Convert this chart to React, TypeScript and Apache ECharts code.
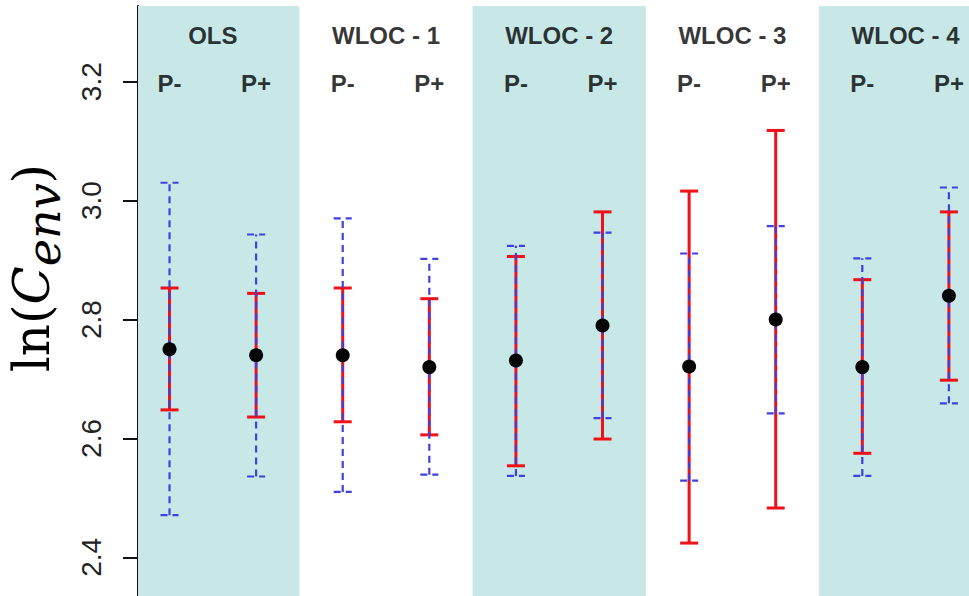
import React, { useEffect, useRef } from 'react';
import * as echarts from 'echarts';

// ---- data ----
const groups = ['OLS', 'WLOC - 1', 'WLOC - 2', 'WLOC - 3', 'WLOC - 4'];
const subLabels = ['P-', 'P+'];
const positions = [1, 2, 3, 4, 5, 6, 7, 8, 9, 10];
const means = [2.75, 2.74, 2.74, 2.72, 2.731, 2.79, 2.721, 2.8, 2.72, 2.84];
const redLow = [2.648, 2.636, 2.628, 2.606, 2.554, 2.599, 2.424, 2.483, 2.575, 2.698];
const redHigh = [2.853, 2.844, 2.853, 2.835, 2.906, 2.981, 3.016, 3.118, 2.867, 2.981];
const blueLow = [2.471, 2.536, 2.51, 2.539, 2.537, 2.634, 2.529, 2.642, 2.537, 2.659];
const blueHigh = [3.03, 2.943, 2.97, 2.902, 2.924, 2.946, 2.911, 2.957, 2.903, 3.022];
const yTicks = [2.4, 2.6, 2.8, 3.0, 3.2];
const shadedGroups = [0, 2, 4];

// axis extents
const X_MIN = 0.636;
const X_MAX = 10.232;
const Y_MIN = 2.335;
const Y_MAX = 3.3273;
const GROUP_LABEL_Y = 3.2785;
const SUB_LABEL_Y = 3.197;

const RED = '#f01018';
const BLUE = '#4040e0';
const PANEL = '#c8e8e8';

function errorBarRender(color: string, width: number, dash: number[] | null) {
  return (params: any, api: any) => {
    const x = api.value(0);
    const lo = api.value(1);
    const hi = api.value(2);
    const pLo = api.coord([x, lo]);
    const pHi = api.coord([x, hi]);
    const hw = 9;
    const style: any = { stroke: color, lineWidth: width, fill: null };
    if (dash) style.lineDash = dash;
    return {
      type: 'group',
      children: [
        { type: 'line', shape: { x1: pLo[0], y1: pLo[1], x2: pHi[0], y2: pHi[1] }, style },
        { type: 'line', shape: { x1: pHi[0] - hw, y1: pHi[1], x2: pHi[0] + hw, y2: pHi[1] }, style },
        { type: 'line', shape: { x1: pLo[0] - hw, y1: pLo[1], x2: pLo[0] + hw, y2: pLo[1] }, style },
      ],
    };
  };
}

export default function App() {
  const ref = useRef<HTMLDivElement>(null);
  useEffect(() => {
    document.body.style.margin = '0';
    if (!ref.current) return;
    const chart = echarts.init(ref.current, null, { renderer: 'svg' });

    const redData = positions.map((p, i) => [p, redLow[i], redHigh[i]]);
    const blueData = positions.map((p, i) => [p, blueLow[i], blueHigh[i]]);
    const meanData = positions.map((p, i) => [p, means[i]]);
    const groupLabelData = groups.map((g, i) => [positions[i * 2] + 0.5, GROUP_LABEL_Y, g]);
    const subLabelData = positions.map((p, i) => [p, SUB_LABEL_Y, subLabels[i % 2]]);
    const areas = shadedGroups.map((g) => [
      { xAxis: Math.max(X_MIN, positions[g * 2] - 0.5), yAxis: Y_MIN },
      { xAxis: Math.min(X_MAX, positions[g * 2 + 1] + 0.5), yAxis: Y_MAX },
    ]);

    const headerLabel = (fs: number) => ({
      show: true,
      position: 'inside',
      formatter: (p: any) => p.value[2],
      fontFamily: 'Liberation Sans, Arial, sans-serif',
      fontWeight: 'bold',
      fontSize: fs,
      color: '#000',
      textBorderWidth: 0,
    });

    chart.setOption({
      animation: false,
      backgroundColor: '#ffffff',
      grid: { left: 138, top: 6, width: 831, height: 590 },
      xAxis: { type: 'value', min: X_MIN, max: X_MAX, show: false },
      yAxis: {
        type: 'value',
        min: Y_MIN,
        max: Y_MAX,
        splitLine: { show: false },
        axisLine: { show: true, lineStyle: { color: '#111', width: 2 } },
        axisTick: { show: true, length: 15, customValues: yTicks, lineStyle: { color: '#111', width: 2 } },
        axisLabel: {
          customValues: yTicks,
          rotate: 90,
          margin: 33,
          fontSize: 28,
          fontFamily: 'Liberation Sans, Arial, sans-serif',
          color: '#222',
          formatter: (v: number) => v.toFixed(1),
        },
      },
      graphic: [
        {
          type: 'text',
          x: 34,
          y: 268,
          rotation: Math.PI / 2,
          style: {
            text: '{a|ln(}{b|C}{c|env}{a|)}',
            align: 'center',
            verticalAlign: 'middle',
            fill: '#000',
            rich: {
              a: { fontFamily: 'DejaVu Serif, serif', fontSize: 50, verticalAlign: 'bottom', padding: [0, 0, 10, 0], lineHeight: 66 },
              b: { fontFamily: 'DejaVu Serif, serif', fontStyle: 'italic', fontSize: 50, verticalAlign: 'bottom', padding: [0, 0, 10, 0], lineHeight: 66 },
              c: { fontFamily: 'DejaVu Serif, serif', fontStyle: 'italic', fontSize: 46, verticalAlign: 'bottom', lineHeight: 66 },
            },
          },
        },
      ],
      series: [
        {
          type: 'scatter',
          data: [],
          silent: true,
          z: 0,
          markArea: { silent: true, itemStyle: { color: PANEL }, data: areas },
        },
        {
          type: 'custom',
          renderItem: errorBarRender(RED, 3, null),
          encode: { x: 0, y: [1, 2] },
          data: redData,
          z: 3,
          silent: true,
        },
        {
          type: 'custom',
          renderItem: errorBarRender(BLUE, 2.2, [7, 5]),
          encode: { x: 0, y: [1, 2] },
          data: blueData,
          z: 4,
          silent: true,
        },
        {
          type: 'scatter',
          data: meanData,
          symbol: 'circle',
          symbolSize: 14,
          itemStyle: { color: '#050505', opacity: 1 },
          z: 6,
          silent: true,
        },
        {
          type: 'scatter',
          data: groupLabelData,
          symbolSize: 0,
          label: headerLabel(24),
          z: 7,
          silent: true,
        },
        {
          type: 'scatter',
          data: subLabelData,
          symbolSize: 0,
          label: headerLabel(24),
          z: 7,
          silent: true,
        },
      ],
    });
    return () => chart.dispose();
  }, []);
  return <div ref={ref} style={{ width: 969, height: 596 }} />;
}
